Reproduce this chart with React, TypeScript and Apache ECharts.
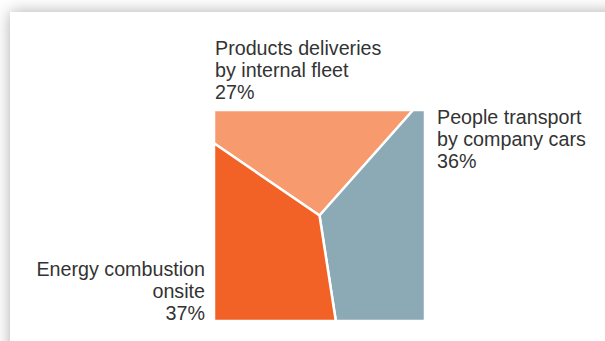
import React, { useEffect, useRef } from "react";
import * as echarts from "echarts";

const categories = [
  "Products deliveries\nby internal fleet",
  "People transport\nby company cars",
  "Energy combustion\nonsite",
];
const values = [27, 36, 37];
const colors = ["#F79B6F", "#8CA9B6", "#F26125"];
const startAngleDeg = 304.4; // clockwise from 12 o'clock

const SQ = { x: 214, y: 110, size: 211 };

function pointAt(cx: number, cy: number, h: number, deg: number) {
  const r = (deg * Math.PI) / 180;
  const dx = Math.sin(r);
  const dy = -Math.cos(r);
  const t = h / Math.max(Math.abs(dx), Math.abs(dy));
  return [cx + dx * t, cy + dy * t];
}

export default function App() {
  const ref = useRef<HTMLDivElement>(null);
  useEffect(() => {
    if (!ref.current) return;
    const chart = echarts.init(ref.current, null, { renderer: "svg" });
    const total = values.reduce((a, b) => a + b, 0);
    const cx = SQ.x + SQ.size / 2;
    const cy = SQ.y + SQ.size / 2;
    const h = SQ.size / 2;

    const renderItem = (params: any, api: any) => {
      const i = params.dataIndex;
      let before = 0;
      for (let k = 0; k < i; k++) before += values[k];
      const v = api.value(1);
      const a0 = startAngleDeg + (before / total) * 360;
      const a1 = a0 + (v / total) * 360;
      const pts: number[][] = [[cx, cy], pointAt(cx, cy, h, a0)];
      const corners = [45, 135, 225, 315, 405, 495, 585, 675, 765];
      for (const c of corners) {
        if (c > a0 && c < a1) pts.push(pointAt(cx, cy, h, c));
      }
      pts.push(pointAt(cx, cy, h, a1));
      return {
        type: "polygon",
        shape: { points: pts },
        style: { fill: colors[i], stroke: "#ffffff", lineWidth: 2.5, lineJoin: "miter" },
      };
    };

    const textStyle = {
      fontFamily: "'Liberation Sans', Arial, Helvetica, sans-serif",
      fontSize: 19.7,
      lineHeight: 22.3,
      fill: "#333333",
    };
    const labelText = (i: number) => `${categories[i]}\n${values[i]}%`;

    chart.setOption({
      animation: false,
      graphic: [
        {
          type: "rect",
          z: -10,
          silent: true,
          shape: { x: 10, y: 12, width: 700, height: 400 },
          style: {
            fill: "#ffffff",
            shadowBlur: 16,
            shadowColor: "rgba(0,0,0,0.32)",
          },
        },
        {
          type: "text",
          x: 215,
          y: 36.5,
          style: { ...textStyle, text: labelText(0), textAlign: "left", textVerticalAlign: "top" },
        },
        {
          type: "text",
          x: 437,
          y: 105.5,
          style: { ...textStyle, text: labelText(1), textAlign: "left", textVerticalAlign: "top" },
        },
        {
          type: "text",
          x: 205,
          y: 257.5,
          style: { ...textStyle, text: labelText(2), textAlign: "right", textVerticalAlign: "top" },
        },
      ],
      series: [
        {
          type: "custom",
          coordinateSystem: "none",
          renderItem,
          data: values.map((v, i) => [i, v]),
          silent: true,
        },
      ],
    });
    return () => chart.dispose();
  }, []);
  return (
    <div
      ref={ref}
      style={{ position: "absolute", left: 0, top: 0, width: 605, height: 341, background: "#ffffff" }}
    />
  );
}
